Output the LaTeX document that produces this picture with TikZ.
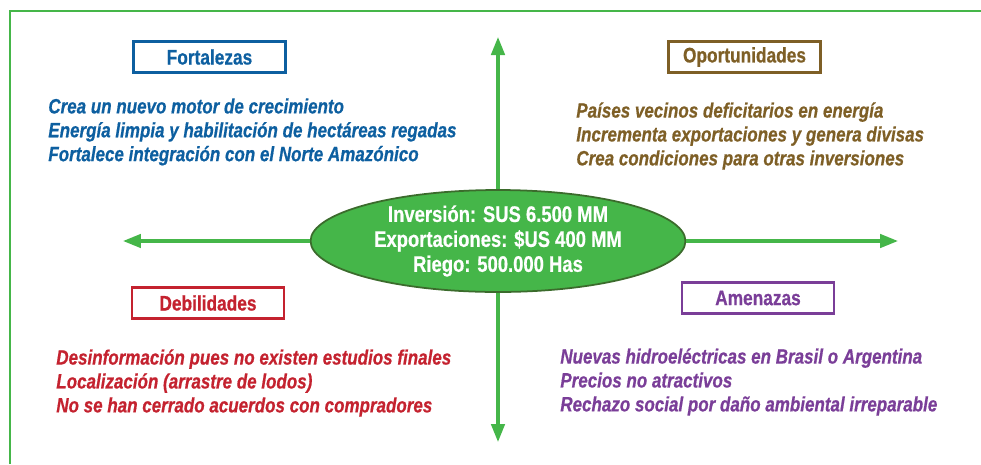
\documentclass[tikz,border=0pt]{standalone}
\usepackage{fontspec}
\setmainfont[FakeStretch=0.82,FakeBold=0.6]{Liberation Sans}
\usetikzlibrary{shapes.geometric,arrows.meta,positioning}
\definecolor{verde}{HTML}{45B649}
\definecolor{verdeosc}{HTML}{3B6B2C}
\definecolor{azul}{HTML}{0D5FA0}
\definecolor{cafe}{HTML}{7E5F26}
\definecolor{rojo}{HTML}{C4222F}
\definecolor{morado}{HTML}{7A3E98}

\begin{document}
\begin{tikzpicture}[x=0.02cm,y=-0.02cm,
  caja/.style={draw=#1,text=#1,line width=1.6pt,minimum width=3.04cm,minimum height=0.62cm,inner sep=0pt,font=\bfseries\fontsize{12}{14}\selectfont},
  lista/.style={text=#1,align=left,anchor=north west,inner sep=0pt,font=\bfseries\itshape\fontsize{11.8}{13.6}\selectfont},
  flecha/.style={draw=verde,line width=1.8pt,-{Triangle[length=0.36cm,width=0.27cm]}}]
  \useasboundingbox (0,0) rectangle (981,464);
  % marco
  \draw[verde,line width=1.6pt] (10,464) -- (10,11) -- (981,11);
  % centro
  \node[ellipse,fill=verde,draw=verdeosc,line width=1pt,minimum width=7.5cm,minimum height=2.04cm,inner sep=0pt,
        text=white,align=center,font=\bfseries\fontsize{12.8}{14.2}\selectfont] (centro) at (498,241)
        {Inversión: SUS 6.500 MM\\Exportaciones: \$US 400 MM\\Riego: 500.000 Has};
  \coordinate (n_tip) at (498,37);
  \coordinate (s_tip) at (498,442);
  \coordinate (w_tip) at (123,241);
  \coordinate (e_tip) at (898,241);
  \draw[flecha] (centro.north) -- (n_tip);
  \draw[flecha] (centro.south) -- (s_tip);
  \draw[flecha] (centro.west) -- (w_tip);
  \draw[flecha] (centro.east) -- (e_tip);
  % cajas
  \node[caja=azul] (fort) at (209.5,57) {Fortalezas};
  \node[caja=cafe] (oport) at (744.5,57) {Oportunidades};
  \node[caja=rojo] (debil) at (208,303) {Debilidades};
  \node[caja=morado] (amen) at (758,298) {Amenazas};
  % listas
  \node[lista=azul] (fort_l) at (48,98) {Crea un nuevo motor de crecimiento\\Energía limpia y habilitación de hectáreas regadas\\Fortalece integración con el Norte Amazónico};
  \node[lista=cafe] (oport_l) at (576,102) {Países vecinos deficitarios en energía\\Incrementa exportaciones y genera divisas\\Crea condiciones para otras inversiones};
  \node[lista=rojo] (debil_l) at (56,349) {Desinformación pues no existen estudios finales\\Localización (arrastre de lodos)\\No se han cerrado acuerdos con compradores};
  \node[lista=morado] (amen_l) at (560,348) {Nuevas hidroeléctricas en Brasil o Argentina\\Precios no atractivos\\Rechazo social por daño ambiental irreparable};
\end{tikzpicture}
\end{document}
